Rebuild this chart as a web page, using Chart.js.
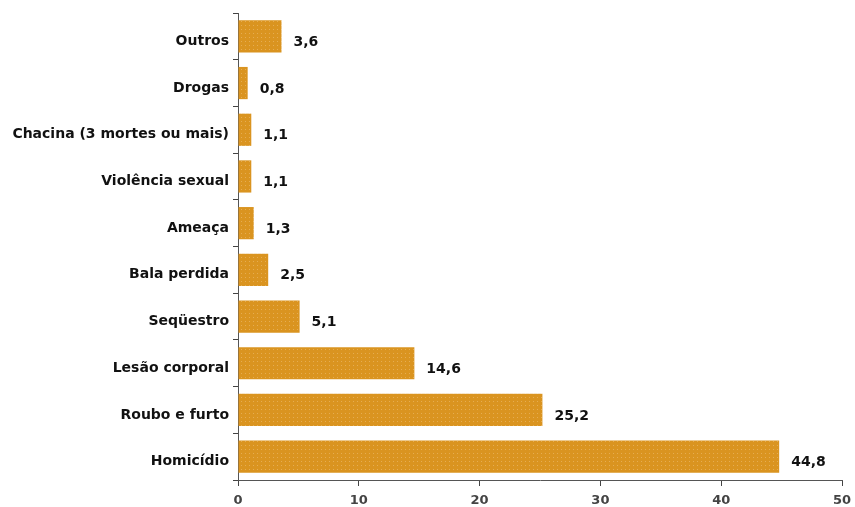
<!DOCTYPE html>
<html>
<head>
<meta charset="utf-8">
<script src="https://cdn.jsdelivr.net/npm/chart.js@4.4.1/dist/chart.umd.min.js"></script>
<style>
  html, body { margin: 0; padding: 0; background: #fff; }
  #wrap { width: 855px; height: 507px; }
</style>
</head>
<body>
<div id="wrap"><canvas id="myChart" width="855" height="507"></canvas></div>
<script>
const labels = ["Outros", "Drogas", "Chacina (3 mortes ou mais)", "Violência sexual", "Ameaça",
  "Bala perdida", "Seqüestro", "Lesão corporal", "Roubo e furto", "Homicídio"];
const values = [3.6, 0.8, 1.1, 1.1, 1.3, 2.5, 5.1, 14.6, 25.2, 44.8];
const xTicks = [0, 10, 20, 30, 40, 50];

const ctx = document.getElementById("myChart").getContext("2d");

// dotted fill like the original print texture
const pc = document.createElement("canvas");
pc.width = 4; pc.height = 4;
const p = pc.getContext("2d");
p.fillStyle = "#da9420";
p.fillRect(0, 0, 4, 4);
p.fillStyle = "#e6ad52";
p.fillRect(1, 1, 1, 1);
const barFill = ctx.createPattern(pc, "repeat");

// value labels to the right of each bar
const valueLabels = {
  id: "valueLabels",
  afterDatasetsDraw(chart) {
    const c = chart.ctx;
    const meta = chart.getDatasetMeta(0);
    c.save();
    c.font = "bold 14px 'DejaVu Sans'";
    c.fillStyle = "#111";
    c.textAlign = "left";
    c.textBaseline = "middle";
    meta.data.forEach((bar, i) => {
      c.fillText(values[i].toFixed(1).replace(".", ","), bar.x + 12, bar.y + 6);
    });
    c.restore();
  }
};

const myChart = new Chart(ctx, {
  type: "bar",
  data: {
    labels,
    datasets: [{
      data: values,
      backgroundColor: barFill,
      borderWidth: 0,
      barPercentage: 0.69,
      categoryPercentage: 1
    }]
  },
  plugins: [valueLabels],
  options: {
    indexAxis: "y",
    responsive: false,
    animation: false,
    layout: { padding: { top: 13, right: 13, left: 0, bottom: 0 } },
    plugins: { legend: { display: false }, tooltip: { enabled: false } },
    scales: {
      x: {
        min: 0,
        max: 50,
        afterBuildTicks: (axis) => { axis.ticks = xTicks.map(v => ({ value: v })); },
        afterFit: (axis) => { axis.height = 27; axis.paddingRight = 0; axis.paddingLeft = 0; },
        grid: { drawOnChartArea: false, tickLength: 6, color: "#444" },
        border: { color: "#555", dash: [2, 1] },
        ticks: {
          padding: 7,
          color: "#444",
          font: { family: "DejaVu Sans", size: 13, weight: "bold" }
        }
      },
      y: {
        afterFit: (axis) => { axis.width = 238; },
        grid: { drawOnChartArea: false, offset: true, tickLength: 5, color: "#444" },
        border: { color: "#555", dash: [2, 1] },
        ticks: {
          padding: 4,
          labelOffset: 5,
          color: "#111",
          font: { family: "DejaVu Sans", size: 14, weight: "bold" }
        }
      }
    }
  }
});
</script>
</body>
</html>
